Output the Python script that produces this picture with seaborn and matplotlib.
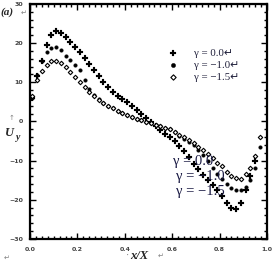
import numpy as np
import pandas as pd
import matplotlib
matplotlib.use('Agg')
import matplotlib.pyplot as plt
import seaborn as sns
from matplotlib.ticker import MultipleLocator, FormatStrFormatter

# data
x_pos = [0.01, 0.03, 0.05, 0.07, 0.09, 0.11, 0.13, 0.15, 0.17, 0.19,
         0.21, 0.23, 0.25, 0.27, 0.29, 0.31, 0.33, 0.35, 0.37, 0.39,
         0.41, 0.43, 0.45, 0.47, 0.49, 0.51, 0.53, 0.55, 0.57, 0.59,
         0.61, 0.63, 0.65, 0.67, 0.69, 0.71, 0.73, 0.75, 0.77, 0.79,
         0.81, 0.83, 0.85, 0.87, 0.89, 0.91, 0.93, 0.95, 0.97]

u_g0 = [6.0, 11.5, 15.5, 19.5, 22.0, 23.2, 22.6, 21.5, 20.3, 18.9,
        17.6, 16.2, 14.6, 13.1, 11.6, 10.0, 8.7, 7.5, 6.6, 5.8,
        5.0, 3.9, 2.9, 1.9, 0.9, -0.2, -1.2, -2.2, -3.2, -4.0,
        -5.0, -6.3, -7.6, -9.2, -10.8, -12.2, -13.6, -15.0, -16.3, -17.5,
        -19.0, -20.8, -22.1, -22.3, -20.8, -17.5, -14.0, -10.0, None]

u_g1 = [6.0, 11.8, 15.5, 17.8, 18.8, 18.9, 18.2, 16.8, 15.6, 14.5,
        13.0, 10.5, 8.2, 6.8, 5.7, 4.6, 3.9, 3.3, 2.7, 2.2,
        1.6, 1.1, 0.6, 0.3, -0.1, -0.4, -0.8, -1.2, -1.6, -2.0,
        -2.8, -3.6, -4.4, -5.2, -6.0, -7.2, -8.6, -10.2, -11.8, -13.4,
        -14.7, -16.0, -17.0, -17.5, -17.6, -16.8, -15.0, -11.8, -6.5]

u_g15 = [6.5, 10.5, 12.8, 14.5, 15.4, 15.5, 15.0, 14.0, 12.6, 11.4,
         10.0, 8.8, 7.5, 6.5, 5.5, 4.6, 3.9, 3.3, 2.7, 2.2,
         1.6, 1.1, 0.6, 0.3, -0.1, -0.4, -0.8, -1.2, -1.6, -2.0,
         -2.7, -3.4, -4.1, -4.8, -5.6, -6.4, -7.3, -8.3, -9.4, -10.5,
         -11.5, -12.8, -14.0, -14.5, -14.6, -13.5, -11.8, -8.8, -4.0]

labels = ['γ = 0.0↵', 'γ = −1.0↵', 'γ = −1.5↵']

df = pd.DataFrame({'x': x_pos * 3,
                   'U': u_g0 + u_g1 + u_g15,
                   'gamma': [labels[0]] * len(x_pos) + [labels[1]] * len(x_pos) + [labels[2]] * len(x_pos)})
df = df.dropna()

sns.set_theme(style='ticks')
plt.rcParams['font.family'] = ['Liberation Serif', 'DejaVu Sans']

fig = plt.figure(figsize=(2.74, 2.63), dpi=100)
ax = fig.add_axes([0.1095, 0.0913, 0.865, 0.894])

sns.scatterplot(data=df[df['gamma'] == labels[0]], x='x', y='U', marker='P', s=13,
                color='black', edgecolor='black', linewidth=0.1, ax=ax, label=labels[0])
sns.scatterplot(data=df[df['gamma'] == labels[1]], x='x', y='U', marker='o', s=7,
                color='black', edgecolor='black', linewidth=0.2, ax=ax, label=labels[1])
sns.scatterplot(data=df[df['gamma'] == labels[2]], x='x', y='U', marker='D', s=5,
                facecolor='white', edgecolor='black', linewidth=0.8, ax=ax, label=labels[2])

ax.set_xlim(0, 1.0)
ax.set_ylim(-30, 30)
ax.xaxis.set_major_locator(MultipleLocator(0.2))
ax.xaxis.set_minor_locator(MultipleLocator(0.025))
ax.xaxis.set_major_formatter(FormatStrFormatter('%.1f'))
ax.yaxis.set_major_locator(MultipleLocator(10))
ax.yaxis.set_minor_locator(MultipleLocator(2))
ax.tick_params(which='both', direction='in', top=True, right=True, colors='black',
               labelsize=4.5, width=1.0)
ax.tick_params(axis='x', pad=6)
ax.tick_params(axis='y', pad=5)
ax.tick_params(which='major', length=4)
ax.tick_params(which='minor', length=2.5)
for lbl in ax.get_xticklabels() + ax.get_yticklabels():
    lbl.set_fontweight('bold')
    lbl.set_family('DejaVu Sans')
    lbl.set_color('#444444')
for sp in ax.spines.values():
    sp.set_linewidth(1.6)
    sp.set_color('black')
ax.set_xlabel('')
ax.set_ylabel('')

leg = ax.legend(loc='upper left', bbox_to_anchor=(0.54, 0.83), frameon=False,
                fontsize=7.8, handletextpad=0.9, labelspacing=0.25, borderaxespad=0,
                markerscale=1.2)
for t in leg.get_texts():
    t.set_color('#1f1f3a')

# duplicated text of the legend sitting over the curves
ax.text(0.605, -10.2, 'γ = 0.0', fontsize=10.5, color='#1a1a44', ha='left', va='center')
ax.text(0.615, -14.0, 'γ = −1.0', fontsize=10.5, color='#1a1a44', ha='left', va='center')
ax.text(0.615, -17.9, 'γ = −1.5', fontsize=10.5, color='#1a1a44', ha='left', va='center')

fig.text(0.002, 0.952, '(a)', fontsize=8, fontweight='bold', style='italic', ha='left', va='center')
fig.text(0.075, 0.952, '↵', fontsize=5, color='gray', ha='left', va='center', family='DejaVu Sans')
fig.text(0.018, 0.495, 'U', fontsize=9, fontweight='bold', style='italic', ha='left', va='center')
fig.text(0.058, 0.478, 'y', fontsize=7, fontweight='bold', style='italic', ha='left', va='center')
fig.text(0.03, 0.552, '↑', fontsize=5, color='gray', ha='left', va='center', family='DejaVu Sans')
fig.text(0.47, 0.028, '·', fontsize=7, color='gray', ha='right', va='center')
fig.text(0.475, 0.028, 'x/X', fontsize=9, fontweight='bold', style='italic', ha='left', va='center')
fig.text(0.575, 0.028, '↵', fontsize=5, color='gray', ha='left', va='center', family='DejaVu Sans')
fig.text(0.015, 0.02, '↵', fontsize=5, color='gray', ha='left', va='center', family='DejaVu Sans')

fig.savefig('out.png', dpi=100)
